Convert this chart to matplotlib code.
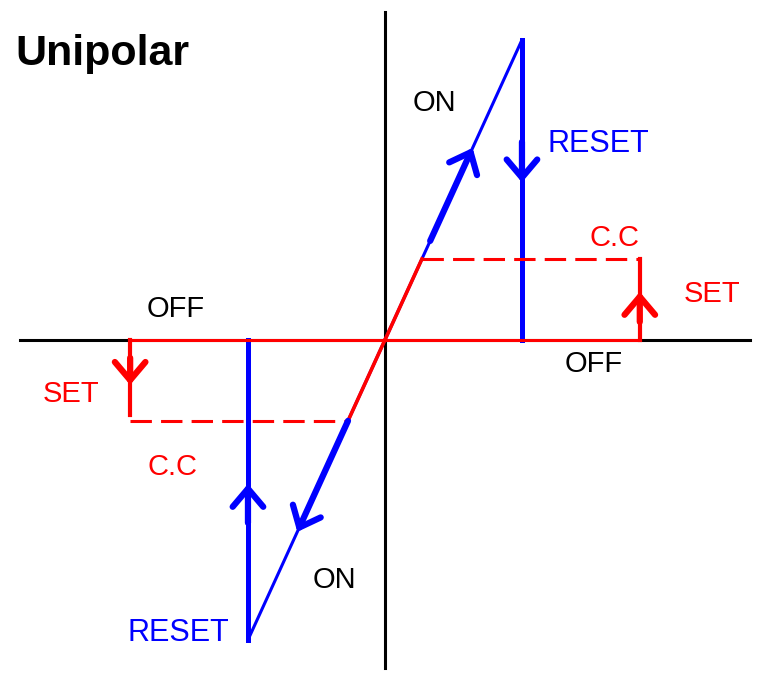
import matplotlib
matplotlib.use("Agg")
import matplotlib.pyplot as plt

plt.rcParams['font.family'] = ['Liberation Sans', 'DejaVu Sans']

# normalised voltage / current of the unipolar switching loop
v_reset = 1.0        # reset voltage (magnitude)
i_reset = 1.0        # current at reset (magnitude)
v_set = 1.86         # set voltage (magnitude)
i_cc = 0.27          # compliance current (magnitude)

# ON branch (ohmic line) and reset drop, positive and negative side
on_pos_v = [0, v_reset]
on_pos_i = [0, i_reset]
on_neg_v = [0, -v_reset]
on_neg_i = [0, -i_reset]

# OFF state along the voltage axis
off_v = [-v_set, v_set]
off_i = [0, 0]

# arrows: (start, tip) pairs
arrows_blue = [((0.33, 0.33), (0.64, 0.64)),       # ON up
               ((1.0, 0.66), (1.0, 0.525)),         # RESET down
               ((-0.27, -0.27), (-0.64, -0.64)),    # ON down
               ((-1.0, -0.61), (-1.0, -0.48))]      # RESET up
arrows_red = [((1.86, 0.06), (1.86, 0.16)),         # SET up
              ((-1.86, -0.06), (-1.86, -0.15))]     # SET down

BLUE = '#0000ff'
RED = '#ff0000'

fig = plt.figure(figsize=(7.65, 6.75), dpi=100)
ax = fig.add_axes([0, 0, 1, 1])
ax.set_xlim(-2.81, 2.774)
ax.set_ylim(-1.117, 1.133)
ax.axis('off')

# axes
ax.plot([-2.664, 2.664], [0, 0], color='black', lw=2.2, zorder=1)
ax.plot([0, 0], [-1.093, 1.093], color='black', lw=2.2, zorder=1)

# blue ON lines and reset verticals
ax.plot(on_pos_v, on_pos_i, color=BLUE, lw=2.2, zorder=2)
ax.plot(on_neg_v, on_neg_i, color=BLUE, lw=2.2, zorder=2)
ax.plot([v_reset, v_reset], [i_reset, 0], color=BLUE, lw=3.6, zorder=2)
ax.plot([-v_reset, -v_reset], [-i_reset, 0], color=BLUE, lw=3.6, zorder=2)

# red OFF line, set lines, compliance
ax.plot(off_v, off_i, color=RED, lw=2.2, zorder=3)
ax.plot([0, i_cc], [0, i_cc], color=RED, lw=2.6, zorder=3)
ax.plot([0, -i_cc], [0, -i_cc], color=RED, lw=2.6, zorder=3)
ax.plot([i_cc, v_set], [i_cc, i_cc], color=RED, lw=2.2, ls=(0, (7, 3)), zorder=3)
ax.plot([-v_set, -i_cc], [-i_cc, -i_cc], color=RED, lw=2.2, ls=(0, (7, 3)), zorder=3)
ax.plot([v_set, v_set], [0, i_cc], color=RED, lw=3.0, zorder=3)
ax.plot([-v_set, -v_set], [0, -i_cc + 0.02], color=RED, lw=3.0, zorder=3)

head = '->,head_length=1.3,head_width=1.1'
for (s, t) in arrows_blue:
    ax.annotate('', xy=t, xytext=s,
                arrowprops=dict(arrowstyle=head, color=BLUE, lw=4.5,
                                shrinkA=0, shrinkB=0, mutation_scale=10,
                                capstyle='round', joinstyle='round'), zorder=4)
for (s, t) in arrows_red:
    ax.annotate('', xy=t, xytext=s,
                arrowprops=dict(arrowstyle=head, color=RED, lw=4.5,
                                shrinkA=0, shrinkB=0, mutation_scale=10,
                                capstyle='round', joinstyle='round'), zorder=4)

fs = 21
ax.text(-2.70, 0.917, 'Unipolar', fontsize=31, fontweight='bold', ha='left', va='baseline')
ax.text(0.358, 0.763, 'ON', fontsize=fs, color='black', ha='center', va='baseline')
ax.text(1.555, 0.627, 'RESET', fontsize=22, color=BLUE, ha='center', va='baseline')
ax.text(1.679, 0.313, 'C.C', fontsize=fs, color=RED, ha='center', va='baseline')
ax.text(2.385, 0.127, 'SET', fontsize=fs, color=RED, ha='center', va='baseline')
ax.text(1.526, -0.107, 'OFF', fontsize=fs, color='black', ha='center', va='baseline')
ax.text(-1.526, 0.077, 'OFF', fontsize=fs, color='black', ha='center', va='baseline')
ax.text(-2.293, -0.207, 'SET', fontsize=fs, color=RED, ha='center', va='baseline')
ax.text(-1.551, -0.45, 'C.C', fontsize=fs, color=RED, ha='center', va='baseline')
ax.text(-0.372, -0.827, 'ON', fontsize=fs, color='black', ha='center', va='baseline')
ax.text(-1.511, -1.003, 'RESET', fontsize=22, color=BLUE, ha='center', va='baseline')

fig.savefig('out.png', dpi=100)
